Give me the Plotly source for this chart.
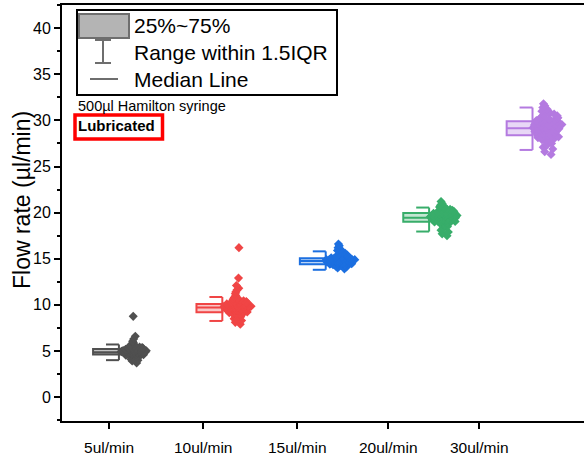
import plotly.graph_objects as go

# ---------------- data ----------------
categories = ["5ul/min", "10ul/min", "15ul/min", "20ul/min", "30ul/min"]
colors = ["#505050", "#f04545", "#1c6fe0", "#38ad6a", "#b47ae0"]
fills = ["rgba(80,80,80,0.35)", "rgba(240,69,69,0.30)", "rgba(28,111,224,0.30)",
         "rgba(56,173,106,0.30)", "rgba(180,122,224,0.30)"]

q1 = [4.6, 9.2, 14.4, 19.0, 28.4]
median = [4.85, 9.7, 14.75, 19.45, 29.15]
q3 = [5.2, 10.1, 15.05, 19.95, 29.9]
whisker_low = [4.0, 8.25, 13.8, 17.95, 26.8]
whisker_high = [5.7, 10.85, 15.8, 20.55, 31.4]

flow_5 = [4.85, 4.9, 4.95, 5.0, 4.8, 4.75, 4.7, 4.9, 5.05, 5.1, 4.85, 4.6, 4.65, 4.55, 5.15,
          5.2, 5.25, 4.95, 5.0, 4.8, 4.9, 5.3, 5.35, 4.5, 4.45, 4.7, 5.05, 4.85, 5.1, 4.95,
          5.4, 5.5, 4.4, 4.3, 5.6, 5.7, 4.2, 5.85, 6.05, 4.1, 5.0, 4.9, 4.75, 5.15, 5.2,
          4.65, 4.8, 5.05, 4.95, 4.85, 5.45, 4.55, 6.3, 6.6, 8.75, 3.7, 3.9, 4.0, 5.95, 4.6,
          4.88, 4.92, 4.98, 5.02, 4.82, 4.78, 4.72, 5.08, 5.12, 4.68, 4.62, 5.18, 5.22, 4.58,
          4.52, 5.28, 5.32, 4.48, 5.38, 4.42, 5.42, 4.36, 5.55, 4.97, 4.87, 5.03, 4.77, 5.13]
flow_10 = [9.7, 9.6, 9.8, 9.5, 9.9, 10.0, 9.4, 9.3, 10.1, 10.2, 9.65, 9.75, 9.55, 9.85, 9.2,
           9.1, 10.3, 10.4, 9.0, 8.9, 10.5, 10.6, 9.7, 9.8, 9.6, 9.45, 9.95, 10.05, 9.35, 9.25,
           10.15, 10.25, 8.8, 8.7, 10.7, 10.8, 8.6, 11.0, 11.2, 8.5, 11.4, 11.6, 8.3, 11.8, 12.1,
           12.9, 16.2, 7.9, 8.1, 9.7, 9.5, 9.9, 10.0, 9.3, 9.8, 9.6, 10.1, 9.4, 9.15, 10.35,
           9.68, 9.72, 9.62, 9.78, 9.58, 9.82, 9.52, 9.88, 9.48, 9.92, 9.42, 9.98, 9.38, 10.02,
           9.32, 10.08, 9.28, 10.12, 9.22, 10.18, 9.12, 10.28, 9.05, 10.45, 8.95, 10.55, 9.66,
           9.74, 9.56, 9.84]
flow_15 = [14.75, 14.8, 14.7, 14.65, 14.85, 14.9, 14.6, 14.55, 14.95, 15.0, 14.5, 14.45, 15.05,
           15.1, 14.4, 14.35, 15.15, 15.2, 14.3, 14.25, 15.3, 15.4, 14.2, 14.1, 15.5, 15.6, 14.0,
           13.9, 15.7, 15.8, 15.9, 16.0, 16.2, 16.4, 16.6, 14.75, 14.7, 14.8, 14.65, 14.85, 14.6,
           14.9, 14.55, 14.95, 14.5, 15.0, 14.45, 15.05, 14.75, 14.8, 14.7, 14.4, 15.1, 14.3,
           15.25, 14.35, 14.6, 14.9, 14.85, 14.65, 14.73, 14.77, 14.68, 14.82, 14.63, 14.87,
           14.58, 14.92, 14.53, 14.97, 14.48, 15.02, 14.43, 15.08, 14.38, 15.12, 14.33, 15.18,
           14.28, 15.22, 14.72, 14.78, 14.62, 14.88]
flow_20 = [19.45, 19.5, 19.4, 19.55, 19.35, 19.6, 19.3, 19.65, 19.25, 19.7, 19.2, 19.75, 19.15,
           19.8, 19.1, 19.85, 19.05, 19.9, 19.0, 19.95, 18.95, 20.0, 18.9, 20.05, 18.85, 20.1,
           18.8, 20.2, 18.7, 20.3, 18.6, 20.4, 18.5, 20.5, 18.3, 20.6, 18.1, 20.7, 17.9, 20.8,
           17.7, 21.0, 17.5, 21.2, 19.45, 19.5, 19.4, 19.6, 19.3, 19.7, 19.2, 19.8, 19.1, 19.9,
           19.0, 20.0, 19.55, 19.35, 19.65, 19.25, 19.48, 19.42, 19.58, 19.32, 19.68, 19.22,
           19.78, 19.12, 19.88, 19.02, 19.98, 19.52, 19.38, 19.62, 19.28, 19.72, 19.18, 19.82,
           19.08, 19.92, 20.15, 20.25, 20.35, 19.47]
flow_30 = [29.15, 29.2, 29.1, 29.3, 29.0, 29.4, 28.9, 29.5, 28.8, 29.6, 28.7, 29.7, 28.6, 29.8,
           28.5, 29.9, 28.4, 30.0, 28.3, 30.1, 28.2, 30.2, 28.1, 30.3, 28.0, 30.4, 27.9, 30.5,
           27.8, 30.6, 27.7, 30.7, 27.6, 30.8, 27.5, 30.9, 27.3, 31.0, 27.1, 31.2, 26.9, 31.4,
           26.6, 31.6, 26.3, 31.8, 29.15, 29.25, 29.05, 29.35, 28.95, 29.45, 28.85, 29.55,
           28.75, 29.65, 28.65, 29.75, 28.55, 29.85, 29.18, 29.12, 29.28, 29.02, 29.38, 28.92,
           29.48, 28.82, 29.58, 28.72, 29.68, 28.62, 29.78, 28.52, 29.88, 28.42, 29.98, 28.32,
           30.08, 28.22, 30.18, 28.12, 30.28, 28.02]
series = [flow_5, flow_10, flow_15, flow_20, flow_30]

y_ticks = [0, 5, 10, 15, 20, 25, 30, 35, 40]

# ---------------- styling / layout constants ----------------
BOX_W = 0.25
PTS_W = 0.3
FONT = "Liberation Sans, Arial, sans-serif"
W, H = 584, 459
ML, MR, MT, MB = 62, 0, 5, 38
PW, PH = W - ML - MR, H - MT - MB
# tick label positions on the x axis (box-position units)
tick_pos = [1.03, 1.94, 2.85, 3.73, 4.61]


def px(x):
    return (x - ML) / PW


def py(y):
    return (H - MB - y) / PH


fig = go.Figure()

for i, vals in enumerate(series):
    pos = i + 1
    c = colors[i]
    # data points (jittered by plotly)
    fig.add_trace(go.Box(
        x=[pos] * len(vals), y=vals, width=PTS_W,
        boxpoints="all", jitter=1, pointpos=1.85,
        fillcolor="rgba(0,0,0,0)", line=dict(color="rgba(0,0,0,0)", width=0),
        marker=dict(symbol="diamond", size=7, color=c),
        showlegend=False, hoveron="points",
    ))
    # half box (IQR + median)
    fig.add_trace(go.Box(
        x=[pos], q1=[q1[i]], median=[median[i]], q3=[q3[i]],
        lowerfence=[q1[i]], upperfence=[q3[i]],
        width=BOX_W, whiskerwidth=0, boxpoints=False,
        fillcolor=fills[i], line=dict(color=c, width=2),
        showlegend=False,
    ))
    # whiskers (range within 1.5 IQR)
    xr = pos + BOX_W / 2
    fig.add_trace(go.Scatter(
        x=[pos, xr, None, xr, xr, None, pos, xr],
        y=[whisker_high[i], whisker_high[i], None, whisker_high[i], whisker_low[i], None,
           whisker_low[i], whisker_low[i]],
        mode="lines", line=dict(color=c, width=2), showlegend=False, hoverinfo="skip",
    ))

shapes = [
    # legend frame
    dict(type="rect", xref="paper", yref="paper", x0=px(77), x1=px(337), y0=py(95), y1=py(10),
         line=dict(color="black", width=2), fillcolor="white", layer="above"),
    dict(type="rect", xref="paper", yref="paper", x0=px(79), x1=px(129), y0=py(38), y1=py(14),
         line=dict(color="#6e6e6e", width=2), fillcolor="#b4b4b4", layer="above"),
    dict(type="line", xref="paper", yref="paper", x0=px(95), x1=px(111), y0=py(40), y1=py(40),
         line=dict(color="#6e6e6e", width=2), layer="above"),
    dict(type="line", xref="paper", yref="paper", x0=px(103), x1=px(103), y0=py(40), y1=py(63),
         line=dict(color="#6e6e6e", width=2), layer="above"),
    dict(type="line", xref="paper", yref="paper", x0=px(95), x1=px(111), y0=py(63), y1=py(63),
         line=dict(color="#6e6e6e", width=2), layer="above"),
    dict(type="line", xref="paper", yref="paper", x0=px(90), x1=px(118), y0=py(79), y1=py(79),
         line=dict(color="#6e6e6e", width=2), layer="above"),
    # red frame round "Lubricated"
    dict(type="rect", xref="paper", yref="paper", x0=px(75), x1=px(162.5), y0=py(139), y1=py(115),
         line=dict(color="#ff0000", width=3.5), layer="above"),
]

annotations = [
    dict(text="25%~75%", x=px(132), y=py(25), xanchor="left", yanchor="middle",
         xref="paper", yref="paper", showarrow=False, font=dict(size=21, color="black")),
    dict(text="Range within 1.5IQR", x=px(132), y=py(52), xanchor="left", yanchor="middle",
         xref="paper", yref="paper", showarrow=False, font=dict(size=21, color="black")),
    dict(text="Median Line", x=px(132), y=py(79), xanchor="left", yanchor="middle",
         xref="paper", yref="paper", showarrow=False, font=dict(size=21, color="black")),
    dict(text="500µl Hamilton syringe", x=px(76), y=py(106), xanchor="left", yanchor="middle",
         xref="paper", yref="paper", showarrow=False, font=dict(size=14.5, color="black")),
    dict(text="<b>Lubricated</b>", x=px(76), y=py(126), xanchor="left", yanchor="middle",
         xref="paper", yref="paper", showarrow=False, font=dict(size=15, color="black")),
    dict(text="Flow rate (µl/min)", x=px(22), y=py(200), xanchor="center", yanchor="middle",
         xref="paper", yref="paper", showarrow=False, textangle=-90,
         font=dict(size=23, color="black")),
]

fig.update_layout(
    width=W, height=H,
    margin=dict(l=ML, r=MR, t=MT, b=MB, autoexpand=False),
    paper_bgcolor="white", plot_bgcolor="white",
    font=dict(family=FONT, color="black"),
    boxmode="overlay",
    showlegend=False,
    shapes=shapes,
    annotations=annotations,
    xaxis=dict(
        range=[0.5745, 5.623], tickvals=tick_pos, ticktext=categories,
        showline=True, linecolor="black", linewidth=2, mirror=True,
        ticks="outside", ticklen=6, tickwidth=2, tickcolor="black",
        ticklabelstandoff=5,
        tickfont=dict(size=15.5, color="black"), showgrid=False, zeroline=False,
    ),
    yaxis=dict(
        range=[-2.6, 42.52], tickvals=y_ticks,
        showline=True, linecolor="black", linewidth=2, mirror=False,
        ticks="outside", ticklen=6, tickwidth=2, tickcolor="black",
        minor=dict(ticks="outside", ticklen=3, tickwidth=1.5, tickcolor="black",
                   dtick=2.5, tick0=0, showgrid=False),
        tickfont=dict(size=16, color="black"), showgrid=False, zeroline=False,
    ),
)

fig.write_html("out.html")
